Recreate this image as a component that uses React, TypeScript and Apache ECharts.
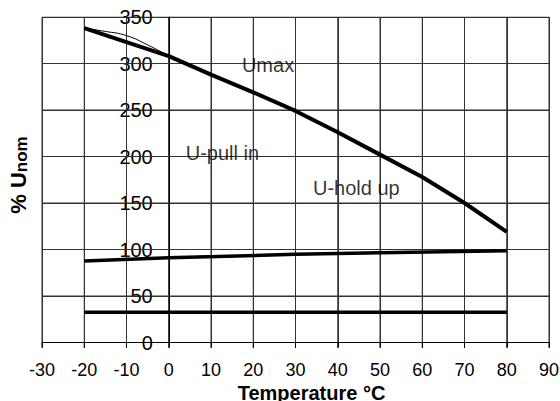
import React, { useEffect, useRef } from 'react';
import * as echarts from 'echarts';

// Temperature axis (°C) and value axis (% Unom)
const xTicks = [-30, -20, -10, 0, 10, 20, 30, 40, 50, 60, 70, 80, 90];
const yTicks = [0, 50, 100, 150, 200, 250, 300, 350];

// Umax curve (thick)
const umaxTemps = [-20, -10, 0, 10, 20, 30, 40, 50, 60, 70, 80];
const umaxVals = [338, 323, 308, 288, 269, 249, 226, 202, 178, 150, 119];

// thin companion curve near the start of Umax
const thinTemps = [-20, -15, -10, -5, 0];
const thinVals = [338, 334.5, 330, 320, 308];

// pull-in line
const pullTemps = [-20, 0, 30, 50, 80];
const pullVals = [87.6, 91, 94.8, 96.6, 98.7];

// hold-up line
const holdTemps = [-20, 80];
const holdVals = [32.5, 32.5];

// region annotations
const noteNames = ['Umax', 'U-pull in', 'U-hold up'];
const noteTemps = [23.5, 12.7, 44.4];
const noteVals = [298, 204, 166];

const FONT = 'Liberation Sans';

const GRID = { left: 42, right: 11, top: 17, bottom: 58.5 };
const W = 560;
const H = 401;

export default function App() {
  const ref = useRef<HTMLDivElement>(null);

  useEffect(() => {
    if (!ref.current) return;
    const chart = echarts.init(ref.current, null, { renderer: 'svg' });
    const pair = (xs: number[], ys: number[]) => xs.map((x, i) => [x, ys[i]]);

    const xMin = xTicks[0];
    const xMax = xTicks[xTicks.length - 1];
    const yMin = yTicks[0];
    const yMax = yTicks[yTicks.length - 1];
    const plotW = W - GRID.left - GRID.right;
    const plotH = H - GRID.top - GRID.bottom;
    // pixel distance from the plot's left edge to x = 0 (where the value axis sits)
    const zeroX = ((0 - xMin) / (xMax - xMin)) * plotW;
    // tick length below the temperature axis, expressed in value units
    const tickDown = (5.5 * (yMax - yMin)) / plotH;

    const plain = (name: string, data: any[], color: string, width: number, extra: any = {}) => ({
      type: 'line',
      name,
      data,
      showSymbol: false,
      symbol: 'none',
      lineStyle: { color, width },
      z: 5,
      ...extra,
    });

    // grid lines, one short series per tick, through the axes' scales
    const gridSeries: any[] = [
      ...xTicks.map((x) => plain('v' + x, [[x, yMin], [x, yMax]], x === 0 ? '#000' : '#333', 1)),
      ...yTicks.map((y) => plain('h' + y, [[xMin, y], [xMax, y]], y === 0 ? '#000' : '#333', 1)),
      ...xTicks.map((x) => plain('t' + x, [[x, yMin], [x, yMin - tickDown]], '#000', 1, { clip: false })),
    ];

    chart.setOption({
      animation: false,
      backgroundColor: '#fff',
      grid: { ...GRID, outerBoundsMode: 'none' },
      xAxis: {
        type: 'value',
        min: xMin,
        max: xMax,
        interval: 10,
        axisLine: { show: true, onZero: false, lineStyle: { color: '#000', width: 1 } },
        axisTick: { show: true, length: 5, lineStyle: { color: '#000' } },
        axisLabel: { fontSize: 18, color: '#000', margin: 18, fontFamily: FONT },
        splitLine: { show: true, lineStyle: { color: '#333', width: 1 } },
        name: 'Temperature °C',
        nameLocation: 'middle',
        nameGap: 31,
        nameTextStyle: { fontSize: 20, fontWeight: 'bold', color: '#000', fontFamily: FONT, padding: [0, 0, 0, 32] },
      },
      yAxis: {
        type: 'value',
        min: yMin,
        max: yMax,
        interval: 50,
        offset: -zeroX,
        axisLine: { show: true, onZero: false, lineStyle: { color: '#000', width: 1 } },
        axisTick: { show: false },
        axisLabel: { fontSize: 20, color: '#000', margin: 16, fontFamily: FONT },
        splitLine: { show: true, lineStyle: { color: '#333', width: 1 } },
      },
      graphic: [
        {
          type: 'text',
          x: 18,
          y: 175,
          rotation: Math.PI / 2,
          style: {
            text: '{b|% U}{s|nom}',
            align: 'center',
            verticalAlign: 'middle',
            rich: {
              b: { fontSize: 22, fontWeight: 'bold', fill: '#000', fontFamily: FONT, lineHeight: 24 },
              s: { fontSize: 17, fontWeight: 'bold', fill: '#000', fontFamily: FONT, lineHeight: 10, verticalAlign: 'bottom' },
            },
          },
        },
      ],
      series: [
        ...gridSeries,
        plain('Umax', pair(umaxTemps, umaxVals), '#000', 4),
        plain('thin', pair(thinTemps, thinVals), '#000', 1, { smooth: true }),
        plain('pull', pair(pullTemps, pullVals), '#000', 3.5),
        plain('hold', pair(holdTemps, holdVals), '#000', 3.5),
        {
          type: 'scatter',
          name: 'notes',
          data: noteNames.map((n, i) => ({ name: n, value: [noteTemps[i], noteVals[i]] })),
          symbolSize: 1,
          itemStyle: { color: 'rgba(0,0,0,0)' },
          label: {
            show: true,
            position: 'inside',
            formatter: (p: any) => p.name,
            fontSize: 20,
            color: '#000',
            fontFamily: FONT,
          },
          z: 6,
        },
      ],
    });

    return () => chart.dispose();
  }, []);

  return (
    <div
      ref={ref}
      style={{ position: 'absolute', left: 0, top: 0, width: W, height: H }}
    />
  );
}
